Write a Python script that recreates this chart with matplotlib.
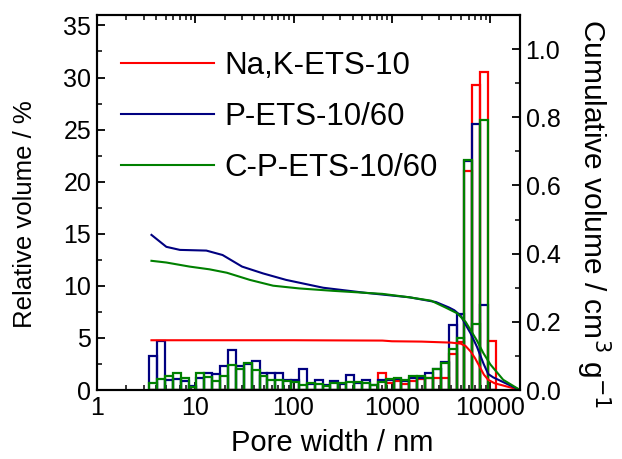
import numpy as np
import matplotlib
matplotlib.use("Agg")
import matplotlib.pyplot as plt
from matplotlib.ticker import FixedLocator, NullFormatter, MultipleLocator, LogLocator

plt.rcParams['font.family'] = ['Liberation Sans', 'DejaVu Sans']

# Histogram bin edges (nm)
bin_edges = [3.41, 4.10, 4.93, 5.93, 7.13, 8.58, 10.3, 12.4, 14.9, 17.9, 21.6, 25.9,
             31.2, 37.5, 45.1, 54.2, 65.2, 78.4, 94.3, 113.4, 136.4, 164, 197, 237,
             285, 343, 412, 496, 596, 717, 862, 1037, 1247, 1499, 1803, 2168, 2607,
             3135, 3770, 4534, 5452, 6556, 7884, 9480, 11400]

# Relative volume (%) per bin
rel_nak = [0, 0, 0, 0, 0, 0, 0, 0, 0, 0, 0, 0, 0, 0, 0, 0, 0, 0, 0, 0, 0, 0,
           0, 0, 0, 0, 0, 0, 0, 1.6, 0.7, 0.9, 0.6, 0.9, 1.1, 1.2, 1.2, 1.2,
           3.5, 4.6, 21.0, 29.3, 30.5, 4.7]
rel_p = [3.3, 4.7, 1.0, 1.05, 0.9, 0.4, 1.2, 1.65, 1.5, 2.3, 3.8, 2.3, 2.5, 2.8,
         1.6, 1.6, 1.6, 0.95, 1.0, 2.0, 0.6, 1.0, 0.5, 0.9, 0.6, 1.45, 0.7, 0.95,
         0.45, 1.0, 1.0, 1.1, 0.9, 1.2, 1.2, 1.6, 2.0, 2.65, 6.2, 7.3, 22.0, 25.5,
         8.2, 0]
rel_cp = [0.7, 1.05, 1.3, 1.65, 1.2, 0.3, 1.6, 1.25, 0.9, 1.35, 2.4, 2.05, 2.55,
          1.9, 1.3, 0.95, 0.95, 0.85, 0.8, 0.5, 0.7, 0.6, 0.4, 0.7, 0.7, 0.8,
          0.75, 0.7, 0.45, 0.75, 1.05, 1.2, 0.95, 1.3, 1.3, 1.2, 2.0, 2.6, 3.95,
          5.0, 22.1, 6.3, 25.9, 0]

# Cumulative volume (cm3/g)
cum_nak_x = [3.6, 100, 800, 1000, 2000, 4000, 5000, 5600, 6300, 7000, 7800, 8600,
             9500, 11000, 20000]
cum_nak_y = [0.146, 0.146, 0.145, 0.143, 0.142, 0.139, 0.136, 0.129, 0.113, 0.093,
             0.068, 0.045, 0.03, 0.02, 0.0]
cum_p_x = [3.6, 5.1, 7.0, 13, 19, 30, 49, 84, 200, 540, 1500, 2800, 3800, 4300,
           5000, 5600, 6300, 7300, 8500, 9500, 10700, 20000]
cum_p_y = [0.455, 0.420, 0.411, 0.409, 0.396, 0.362, 0.342, 0.323, 0.300, 0.285,
           0.272, 0.258, 0.242, 0.234, 0.218, 0.192, 0.166, 0.127, 0.078, 0.047,
           0.037, 0.0]
cum_cp_x = [3.6, 5.1, 8.8, 14, 21, 36, 62, 114, 250, 800, 1500, 2500, 3500, 4600,
            5600, 6300, 7300, 8500, 10000, 13500, 20000]
cum_cp_y = [0.379, 0.374, 0.362, 0.354, 0.344, 0.323, 0.306, 0.298, 0.291, 0.282,
            0.272, 0.262, 0.242, 0.225, 0.2, 0.176, 0.145, 0.108, 0.075, 0.03, 0.0]

labels = ['Na,K-ETS-10', 'P-ETS-10/60', 'C-P-ETS-10/60']
colors = ['#ff0000', '#000080', '#008000']

fig = plt.figure(figsize=(6.22, 4.59), dpi=100)
ax = fig.add_axes([0.1555, 0.1503, 0.6805, 0.8170])
ax2 = ax.twinx()

edges = np.array(bin_edges)
widths = np.diff(edges)
lw = 1.6
for vals, c in zip([rel_nak, rel_p, rel_cp], colors):
    ax.bar(edges[:-1], vals, width=widths, align='edge', fill=False,
           edgecolor=c, linewidth=lw, zorder=2)

handles = []
for xs, ys, c, lab in zip([cum_nak_x, cum_p_x, cum_cp_x],
                          [cum_nak_y, cum_p_y, cum_cp_y], colors, labels):
    ax2.plot(xs, ys, color=c, lw=1.5)
    h, = ax.plot([], [], color=c, lw=1.5, label=lab)
    handles.append(h)

ax.set_xscale('log')
ax.set_xlim(1, 20000)
ax.set_ylim(0, 36)
ax2.set_ylim(0, 1.1)

ax.xaxis.set_major_locator(FixedLocator([1, 10, 100, 1000, 10000]))
ax.set_xticklabels(['1', '10', '100', '1000', '10000'])
ax.xaxis.set_minor_locator(LogLocator(base=10, subs=np.arange(2, 10)))
ax.xaxis.set_minor_formatter(NullFormatter())
ax.yaxis.set_major_locator(MultipleLocator(5))
ax.yaxis.set_minor_locator(MultipleLocator(2.5))
ax2.yaxis.set_major_locator(FixedLocator([0, 0.2, 0.4, 0.6, 0.8, 1.0]))
ax2.set_yticklabels(['0.0', '0.2', '0.4', '0.6', '0.8', '1.0'])
ax2.yaxis.set_minor_locator(MultipleLocator(0.1))

fs = 18
ax.tick_params(axis='both', which='major', direction='in', length=6, width=1.3,
               labelsize=fs, top=True, pad=4)
ax.tick_params(axis='both', which='minor', direction='in', length=3.5, width=1.1, top=True)
ax.tick_params(axis='y', right=False)
ax2.tick_params(axis='y', which='major', direction='in', length=6, width=1.3,
                labelsize=fs, pad=4)
ax2.tick_params(axis='y', which='minor', direction='in', length=3.5, width=1.1)
for a in (ax, ax2):
    for s in a.spines.values():
        s.set_linewidth(1.5)

ax.set_xlabel('Pore width / nm', fontsize=21)
ax.xaxis.set_label_coords(0.556, -0.105)
ax.set_ylabel('Relative volume / %', fontsize=18.5)
ax.yaxis.set_label_coords(-0.14, 0.47)
ax2.set_ylabel('Cumulative volume / cm$^3$ g$^{-1}$', fontsize=21.5, rotation=270,
               va='bottom')
ax2.yaxis.set_label_coords(1.128, 0.47)

ax.legend(handles=handles, loc='upper left', bbox_to_anchor=(0.012, 0.955),
          frameon=False, fontsize=22.5, handlelength=3.0, handletextpad=0.32,
          labelspacing=0.68, borderaxespad=0.2)

fig.savefig('out.png', dpi=100)
